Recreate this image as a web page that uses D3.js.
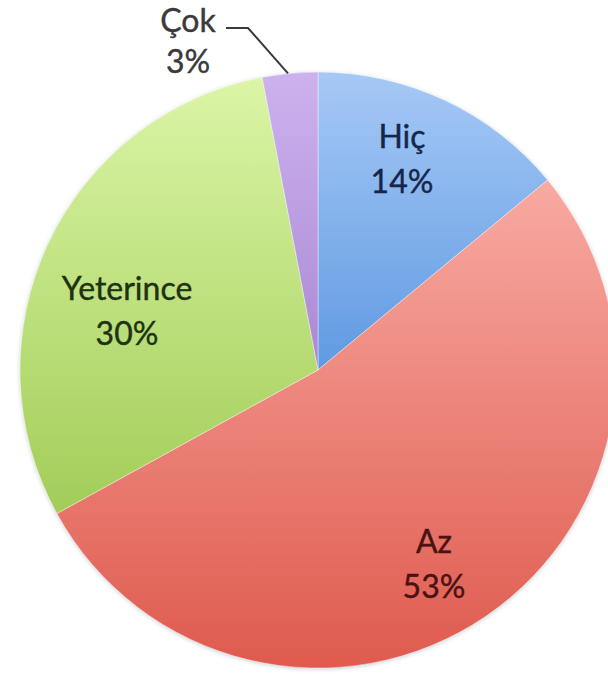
<!DOCTYPE html>
<html>
<head>
<meta charset="utf-8">
<script src="https://cdn.jsdelivr.net/npm/d3@7"></script>
<style>
  html, body { margin: 0; padding: 0; background: #fff; }
  svg { display: block; }
</style>
</head>
<body>
<div id="chart"></div>
<script>
'use strict';

// chart data
var categories = ['Hiç', 'Az', 'Yeterince', 'Çok'];
var values = [14, 53, 30, 3];

// colours: top / bottom of each slice gradient, label ink
var topColors = ['#a6c9f6', '#f8aaa2', '#dbf5a6', '#cdb2ee'];
var bottomColors = ['#609ae2', '#df5a4e', '#a2cd58', '#aa88d4'];
var inkColors = ['#16264a', '#4a1212', '#1e3212', '#3a3a3a'];

// label anchors (centre x, first baseline y)
var labelAnchors = [[402, 148], [434, 553], [127, 300], [188, 32]];

var width = 608,
    height = 678,
    cx = 318,
    cy = 370,
    radius = 298,
    lineGap = 45;

var svg = d3.select('#chart').append('svg')
  .attr('width', width)
  .attr('height', height);

var defs = svg.append('defs');

defs.selectAll('linearGradient')
  .data(categories)
  .join('linearGradient')
    .attr('id', function(d, i) { return 'grad' + i; })
    .attr('x1', 0).attr('y1', 0)
    .attr('x2', 0).attr('y2', 1)
    .each(function(d, i) {
      var g = d3.select(this);
      g.append('stop').attr('offset', '0%').attr('stop-color', topColors[i]);
      g.append('stop').attr('offset', '100%').attr('stop-color', bottomColors[i]);
    });

var shadow = defs.append('filter')
  .attr('id', 'soft')
  .attr('x', '-5%').attr('y', '-5%')
  .attr('width', '110%').attr('height', '110%');
shadow.append('feDropShadow')
  .attr('dx', 0).attr('dy', 1)
  .attr('stdDeviation', 2)
  .attr('flood-color', '#8a9aa8')
  .attr('flood-opacity', 0.45);

var pie = d3.pie().sort(null).value(function(d) { return d; });
var arcs = pie(values);

var arc = d3.arc().innerRadius(0).outerRadius(radius);

var root = svg.append('g')
  .attr('transform', 'translate(' + cx + ',' + cy + ')');

root.append('g')
  .attr('filter', 'url(#soft)')
  .selectAll('path')
  .data(arcs)
  .join('path')
    .attr('d', arc)
    .attr('fill', function(d, i) { return 'url(#grad' + i + ')'; })
    .attr('stroke', '#ffffff')
    .attr('stroke-opacity', 0.5)
    .attr('stroke-width', 0.8);

// labels
var labels = svg.append('g')
  .attr('font-family', 'Lato, "Open Sans", sans-serif')
  .attr('font-size', '32px')
  .attr('text-anchor', 'middle');

var total = d3.sum(values);

labels.selectAll('text')
  .data(arcs)
  .join('text')
    .attr('x', function(d, i) { return labelAnchors[i][0]; })
    .attr('y', function(d, i) { return labelAnchors[i][1]; })
    .attr('fill', function(d, i) { return inkColors[i]; })
    .attr('stroke', function(d, i) { return inkColors[i]; })
    .attr('stroke-width', 0.4)
    .each(function(d, i) {
      var t = d3.select(this);
      t.append('tspan').text(categories[i]);
      t.append('tspan')
        .attr('x', labelAnchors[i][0])
        .attr('dy', lineGap - (i === 3 ? 4 : 0))
        .text(Math.round(d.value / total * 100) + '%');
    });

// leader line for the small slice
var small = arcs[3];
var tip = d3.pointRadial((small.startAngle + small.endAngle) / 2, radius);

svg.append('path')
  .attr('d', d3.line()([
    [226, 28],
    [248, 28],
    [cx + tip[0] - 2, cy + tip[1]]
  ]))
  .attr('fill', 'none')
  .attr('stroke', '#3a3a3a')
  .attr('stroke-width', 2);
</script>
</body>
</html>
